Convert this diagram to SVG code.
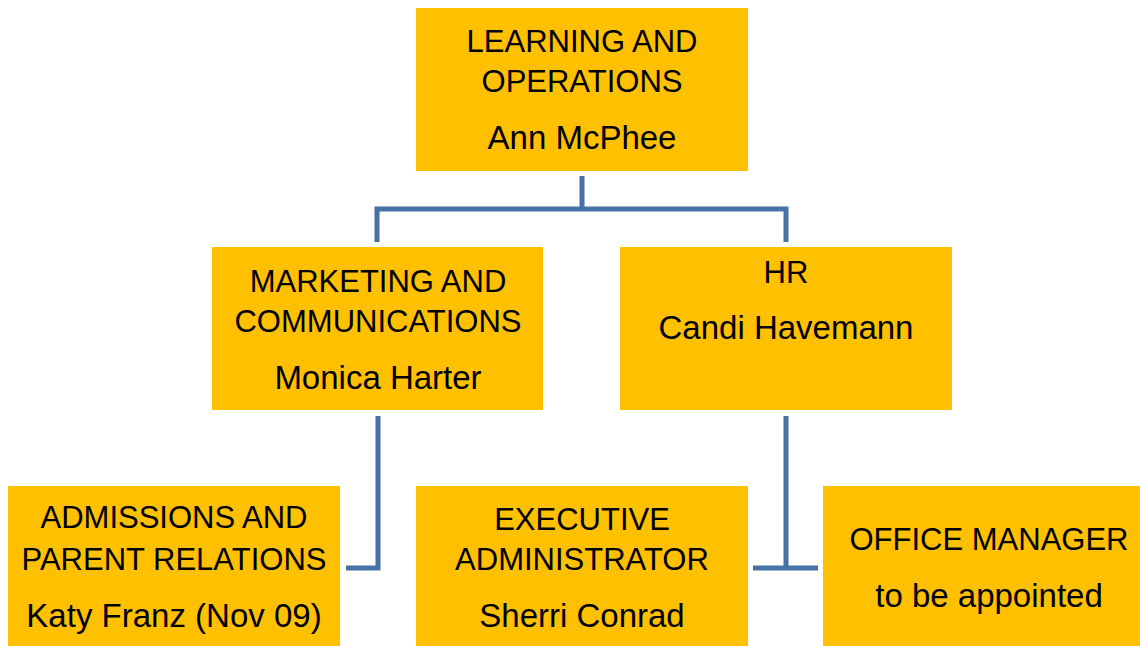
<svg xmlns="http://www.w3.org/2000/svg" width="1140" height="646" viewBox="0 0 1140 646">
<style>
.box{fill:#FFC000;}
.t{font-family:"Liberation Sans",Arial,sans-serif;font-size:31px;fill:#000;text-anchor:middle;}
.n{font-size:33px;}
.c{fill:none;stroke:#4672A6;stroke-width:5;}
</style>
<rect width="1140" height="646" fill="#fff"/>
<g id="connectors">
<path class="c" d="M582,176 V209 M377,242 V209 H786 V242"/>
<path class="c" d="M378,416 V568 H346"/>
<path class="c" d="M786,416 V568 M753,568 H818"/>
</g>
<g id="learning">
<rect class="box" x="416" y="8" width="332" height="163"/>
<text class="t" x="582" y="52">LEARNING AND</text>
<text class="t" x="582" y="92">OPERATIONS</text>
<text class="t n" x="582" y="149">Ann McPhee</text>
</g>
<g id="marketing">
<rect class="box" x="212" y="247" width="331" height="163"/>
<text class="t" x="378" y="292">MARKETING AND</text>
<text class="t" x="378" y="332">COMMUNICATIONS</text>
<text class="t n" x="378" y="389">Monica Harter</text>
</g>
<g id="hr">
<rect class="box" x="620" y="247" width="332" height="163"/>
<text class="t" x="786" y="283">HR</text>
<text class="t n" x="786" y="339">Candi Havemann</text>
</g>
<g id="admissions">
<rect class="box" x="8" y="486" width="332" height="170"/>
<text class="t" x="174" y="528">ADMISSIONS AND</text>
<text class="t" x="174" y="570">PARENT RELATIONS</text>
<text class="t n" x="174" y="627">Katy Franz (Nov 09)</text>
</g>
<g id="executive">
<rect class="box" x="416" y="486" width="332" height="170"/>
<text class="t" x="582" y="530">EXECUTIVE</text>
<text class="t" x="582" y="570">ADMINISTRATOR</text>
<text class="t n" x="582" y="627">Sherri Conrad</text>
</g>
<g id="office">
<rect class="box" x="823" y="486" width="332" height="170"/>
<text class="t" x="989" y="550">OFFICE MANAGER</text>
<text class="t n" x="989" y="607">to be appointed</text>
</g>
</svg>
